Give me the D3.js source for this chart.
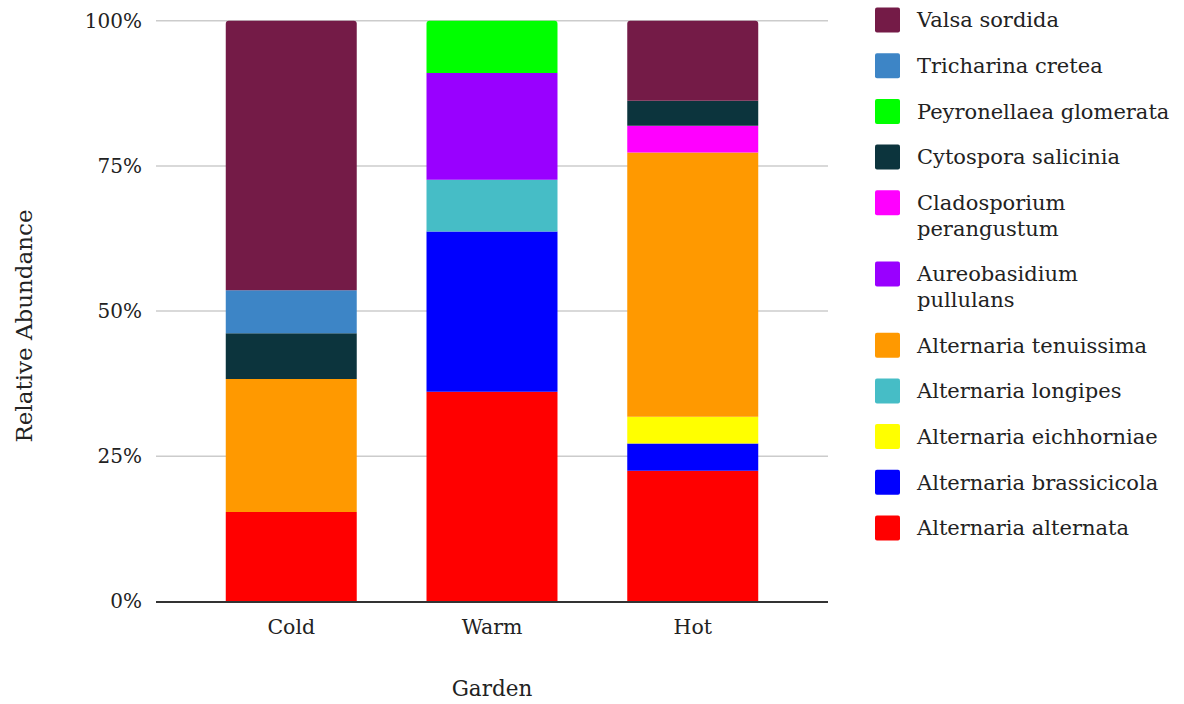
<!DOCTYPE html>
<html>
<head>
<meta charset="utf-8">
<script src="https://cdn.jsdelivr.net/npm/d3@7"></script>
<style>
  html, body { margin: 0; padding: 0; background: #fff; }
  svg text { font-family: "DejaVu Serif", Georgia, serif; fill: #222; }
</style>
</head>
<body>
<svg id="chart" width="1184" height="704"></svg>
<script>
// Gardens along the x axis
const gardens = ["Cold", "Warm", "Hot"];

// Species, listed from the bottom of each stack upwards
const species = [
  "Alternaria alternata",
  "Alternaria brassicicola",
  "Alternaria eichhorniae",
  "Alternaria longipes",
  "Alternaria tenuissima",
  "Aureobasidium pullulans",
  "Cladosporium perangustum",
  "Cytospora salicinia",
  "Peyronellaea glomerata",
  "Tricharina cretea",
  "Valsa sordida"
];

const speciesColors = [
  "#ff0000", "#0000ff", "#ffff00", "#46bdc6", "#ff9900",
  "#9900ff", "#ff00ff", "#0c343d", "#00ff00", "#3d85c6", "#741b47"
];

// Relative abundance (%) per species, in garden order Cold, Warm, Hot
const alternataVals     = [15.4, 36.1, 22.5];
const brassicicolaVals  = [0,    27.6,  4.7];
const eichhorniaeVals   = [0,     0,    4.6];
const longipesVals      = [0,     8.9,  0];
const tenuissimaVals    = [22.9,  0,   45.5];
const aureobasidiumVals = [0,    18.4,  0];
const cladosporiumVals  = [0,     0,    4.6];
const cytosporaVals     = [7.9,   0,    4.3];
const peyronellaeaVals  = [0,     9.0,  0];
const tricharinaVals    = [7.4,   0,    0];
const valsaVals         = [46.4,  0,   13.8];

const seriesValues = [
  alternataVals, brassicicolaVals, eichhorniaeVals, longipesVals, tenuissimaVals,
  aureobasidiumVals, cladosporiumVals, cytosporaVals, peyronellaeaVals,
  tricharinaVals, valsaVals
];

const yTicks = [0, 0.25, 0.5, 0.75, 1];

// Build rows of shares for d3.stack
const rows = gardens.map((g, gi) => {
  const row = { garden: g };
  const total = d3.sum(seriesValues, s => s[gi]);
  species.forEach((sp, si) => { row[sp] = seriesValues[si][gi] / total; });
  return row;
});

const stacked = d3.stack().keys(species)(rows);

const svg = d3.select("#chart");
const plotLeft = 156, plotRight = 828, plotTop = 20.7, plotBottom = 601.5;

const x = d3.scaleBand().domain(gardens).range([plotLeft, plotRight]).padding(0.3475);
const y = d3.scaleLinear().domain([0, 1]).range([plotBottom, plotTop]);
const color = d3.scaleOrdinal().domain(species).range(speciesColors);

// Horizontal gridlines
svg.append("g")
  .selectAll("line")
  .data(yTicks.filter(t => t > 0))
  .join("line")
  .attr("x1", plotLeft).attr("x2", plotRight)
  .attr("y1", d => y(d)).attr("y2", d => y(d))
  .attr("stroke", "#cccccc").attr("stroke-width", 1.5);

// Y tick labels
const yAxis = svg.append("g")
  .attr("transform", `translate(${plotLeft},0)`)
  .call(d3.axisLeft(y).tickValues(yTicks).tickFormat(d3.format(".0%")).tickSize(0).tickPadding(14));
yAxis.select(".domain").remove();
yAxis.selectAll("text").attr("font-size", 20).attr("font-family", "DejaVu Serif").attr("fill", "#222");

// Top-most non-empty segment in each garden gets rounded top corners
const topKey = {};
gardens.forEach((g, gi) => {
  for (let si = species.length - 1; si >= 0; si--) {
    if (seriesValues[si][gi] > 0) { topKey[g] = species[si]; break; }
  }
});

const r = 3;
svg.append("g")
  .selectAll("g")
  .data(stacked)
  .join("g")
  .attr("fill", d => color(d.key))
  .selectAll("path")
  .data(d => d.map(p => ({ key: d.key, p })))
  .join("path")
  .attr("d", ({ key, p }) => {
    const x0 = x(p.data.garden), w = x.bandwidth();
    const yTop = y(p[1]), yBot = y(p[0]);
    const h = yBot - yTop;
    if (h <= 0) return "";
    if (topKey[p.data.garden] === key) {
      return `M${x0},${yBot}V${yTop + r}Q${x0},${yTop} ${x0 + r},${yTop}H${x0 + w - r}Q${x0 + w},${yTop} ${x0 + w},${yTop + r}V${yBot}Z`;
    }
    return `M${x0},${yBot}V${yTop}H${x0 + w}V${yBot}Z`;
  });

// Baseline
svg.append("line")
  .attr("x1", plotLeft).attr("x2", plotRight)
  .attr("y1", y(0) + 0.5).attr("y2", y(0) + 0.5)
  .attr("stroke", "#333").attr("stroke-width", 2);

// X tick labels
const xAxis = svg.append("g")
  .attr("transform", `translate(0,${plotBottom})`)
  .call(d3.axisBottom(x).tickSize(0).tickPadding(18));
xAxis.select(".domain").remove();
xAxis.selectAll("text").attr("font-size", 20.5).attr("font-family", "DejaVu Serif").attr("fill", "#222");

// Axis titles
svg.append("text")
  .attr("x", 492).attr("y", 696)
  .attr("text-anchor", "middle").attr("font-size", 21.5)
  .text("Garden");

svg.append("text")
  .attr("transform", `translate(32,326) rotate(-90)`)
  .attr("text-anchor", "middle").attr("font-size", 23)
  .text("Relative Abundance");

// Legend, top species first; long names wrap onto two lines
const legendItems = species.slice().reverse().map(sp => {
  const words = sp.split(" ");
  const lines = sp === "Cladosporium perangustum" || sp === "Aureobasidium pullulans" ? words : [sp];
  return { sp, lines };
});

let ly = 20;
const legend = svg.append("g");
legendItems.forEach(item => {
  const g = legend.append("g").attr("transform", `translate(0,${ly})`);
  g.append("rect")
    .attr("x", 875).attr("y", -12.5).attr("width", 25).attr("height", 25)
    .attr("rx", 2).attr("fill", color(item.sp));
  item.lines.forEach((ln, i) => {
    g.append("text")
      .attr("x", 917).attr("y", i * 25.5)
      .attr("dy", "0.35em")
      .attr("font-size", 21)
      .text(ln);
  });
  ly += 45.7 + (item.lines.length - 1) * 25.5;
});
</script>
</body>
</html>
